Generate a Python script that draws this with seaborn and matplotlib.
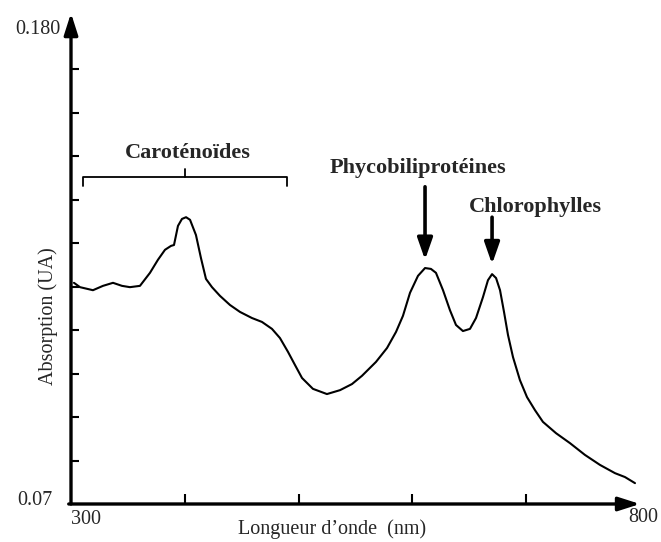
import matplotlib
matplotlib.use("Agg")
import matplotlib.pyplot as plt
from matplotlib.patches import ArrowStyle
import numpy as np
import pandas as pd
import seaborn as sns

# Absorption spectrum (wavelength in nm, absorbance in arbitrary units)
wavelength = [302.6, 307.9, 319.3, 328.1, 336.9, 344.8, 351.8, 360.6, 369.4, 376.4,
              382.6, 387.9, 390.5, 394.0, 397.5, 401.1, 404.6, 409.8, 414.2, 418.6,
              423.9, 430.9, 439.7, 448.5, 459.0, 467.8, 476.6, 483.6, 490.7, 496.8,
              503.0, 512.6, 524.9, 536.4, 546.9, 555.7, 568.0, 577.7, 585.6, 591.7,
              597.9, 604.9, 611.1, 616.3, 620.7, 626.9, 633.0, 638.3, 644.4, 650.6,
              655.9, 662.0, 666.4, 670.0, 673.5, 677.0, 680.5, 684.0, 688.4, 694.5,
              700.7, 707.7, 714.7, 726.2, 738.5, 751.6, 764.8, 778.0, 786.8, 795.6]
absorbance = [0.1209, 0.1199, 0.1192, 0.1202, 0.1209, 0.1202, 0.1199, 0.1202, 0.1232, 0.1262,
              0.1285, 0.1294, 0.1296, 0.1340, 0.1356, 0.1360, 0.1354, 0.1319, 0.1266, 0.1218,
              0.1199, 0.1179, 0.1158, 0.1142, 0.1128, 0.1119, 0.1103, 0.1082, 0.1050, 0.1020,
              0.0990, 0.0965, 0.0953, 0.0962, 0.0976, 0.0995, 0.1027, 0.1059, 0.1096, 0.1133,
              0.1186, 0.1225, 0.1243, 0.1241, 0.1232, 0.1192, 0.1146, 0.1112, 0.1098, 0.1103,
              0.1128, 0.1176, 0.1215, 0.1229, 0.1220, 0.1192, 0.1142, 0.1089, 0.1038, 0.0985,
              0.0946, 0.0916, 0.0889, 0.0863, 0.0840, 0.0813, 0.0790, 0.0771, 0.0762, 0.0748]

x_range = [300, 800]
y_range = [0.07, 0.18]
x_minor_ticks = [400, 500, 600, 700]
y_minor_ticks = [0.08, 0.09, 0.10, 0.11, 0.12, 0.13, 0.14, 0.15, 0.16, 0.17]
x_tick_labels = ["300", "800"]
y_tick_labels = ["0.07", "0.180"]

# Pigment groups: (label, label x, label y)
carotenoid_label = ("Caroténoïdes", 402.4, 0.1508)
carotenoid_span = [310.5, 489.8]
carotenoid_bracket_y = 0.1453
phyco_label = ("Phycobiliprotéines", 604.9, 0.1473)
phyco_peak = (611.1, 0.1430, 0.1262)      # x, arrow start, arrow tip
chloro_label = ("Chlorophylles", 707.7, 0.1383)
chloro_peak = (670.0, 0.1360, 0.1252)

sns.set_theme(style="white")
plt.rcParams["font.family"] = ["Liberation Serif", "DejaVu Serif"]

fig = plt.figure(figsize=(6.61, 5.42), dpi=100)
ax = fig.add_axes([71 / 661, 38 / 542, 569 / 661, 478 / 542])

df = pd.DataFrame({"wavelength": wavelength, "absorbance": absorbance})
sns.lineplot(data=df, x="wavelength", y="absorbance", ax=ax, color="black",
             linewidth=1.5, sort=False)

ax.set_xlim(*x_range)
ax.set_ylim(*y_range)
for s in ax.spines.values():
    s.set_visible(False)

# Axes drawn as arrows
head = ArrowStyle("-|>", head_length=1.0, head_width=0.32)
ax.annotate("", xy=(0, 1.027), xytext=(0, 0), xycoords="axes fraction",
            arrowprops=dict(arrowstyle=head, lw=2.4, color="black",
                            mutation_scale=13, shrinkA=0, shrinkB=0),
            annotation_clip=False)
ax.annotate("", xy=(1.0, 0), xytext=(-0.004, 0), xycoords="axes fraction",
            arrowprops=dict(arrowstyle=head, lw=2.4, color="black",
                            mutation_scale=13, shrinkA=0, shrinkB=0),
            annotation_clip=False)

ax.set_xticks(x_minor_ticks)
ax.set_yticks(y_minor_ticks)
ax.set_xticklabels([])
ax.set_yticklabels([])
ax.tick_params(axis="x", direction="in", length=7, width=1.5, colors="black", bottom=True)
ax.tick_params(axis="y", direction="in", length=6, width=1.5, colors="black", left=True)

fs = 14.5
ax.text(x_range[0], y_range[0] - 0.0035, x_tick_labels[0], ha="left", va="center", fontsize=fs)
ax.text(x_range[1] + 3, y_range[0] - 0.0031, x_tick_labels[1], ha="center", va="center", fontsize=fs)
ax.text(x_range[0] - 16, y_range[0] + 0.0008, y_tick_labels[0], ha="right", va="center", fontsize=fs)
ax.text(x_range[0] - 9, y_range[1] - 0.0008, y_tick_labels[1], ha="right", va="center", fontsize=fs)

ax.set_xlabel("")
ax.set_ylabel("")
ax.text(0.4587, -0.0523, "Longueur d\u2019onde  (nm)", transform=ax.transAxes,
        ha="center", va="center", fontsize=fs)
ax.text(-0.0404, 0.393, "Absorption (UA)", transform=ax.transAxes, rotation=90,
        ha="center", va="center", fontsize=fs)

# Pigment annotations
fb = 16
ax.text(carotenoid_label[1], carotenoid_label[2], carotenoid_label[0], ha="center",
        va="center", fontsize=fb, fontweight="bold")
ax.plot([carotenoid_span[0], carotenoid_span[0], carotenoid_span[1], carotenoid_span[1]],
        [carotenoid_bracket_y - 0.0021, carotenoid_bracket_y, carotenoid_bracket_y,
         carotenoid_bracket_y - 0.0021], color="black", lw=1.3)
mid = (carotenoid_span[0] + carotenoid_span[1]) / 2
ax.plot([mid, mid], [carotenoid_bracket_y, carotenoid_bracket_y + 0.0018], color="black", lw=1.3)

for label, peak in [(phyco_label, phyco_peak), (chloro_label, chloro_peak)]:
    ax.text(label[1], label[2], label[0], ha="center", va="center", fontsize=fb,
            fontweight="bold")
    ax.annotate("", xy=(peak[0], peak[2]), xytext=(peak[0], peak[1]),
                arrowprops=dict(arrowstyle=ArrowStyle("-|>", head_length=1.0, head_width=0.35),
                                lw=2.6, color="black", mutation_scale=13,
                                shrinkA=0, shrinkB=0))

fig.savefig("out.png", dpi=100, facecolor="white")
